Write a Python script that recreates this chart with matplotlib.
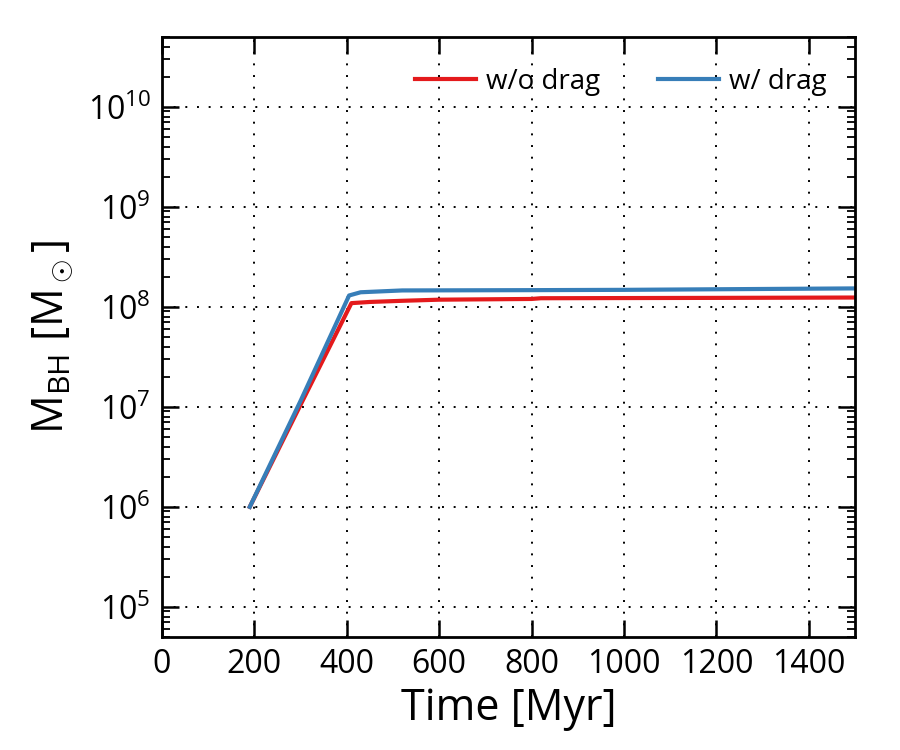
import matplotlib
matplotlib.use("Agg")
import matplotlib.pyplot as plt
from matplotlib.ticker import LogLocator, NullFormatter, MultipleLocator

plt.rcParams['font.family'] = ['Open Sans', 'DejaVu Sans']
plt.rcParams['mathtext.fontset'] = 'custom'
plt.rcParams['mathtext.rm'] = 'Open Sans'
plt.rcParams['mathtext.it'] = 'Open Sans:italic'
plt.rcParams['mathtext.bf'] = 'Open Sans:bold'

# Data
t_nodrag = [190, 300, 410, 450, 520, 600, 800, 820, 1000, 1200, 1500]
m_nodrag = [1.0e6, 1.05e7, 1.09e8, 1.12e8, 1.15e8, 1.18e8, 1.2e8, 1.22e8, 1.225e8, 1.23e8, 1.24e8]
t_drag = [190, 300, 405, 430, 520, 800, 1000, 1200, 1500]
m_drag = [1.0e6, 1.15e7, 1.3e8, 1.4e8, 1.46e8, 1.47e8, 1.48e8, 1.5e8, 1.53e8]
labels = ["w/o drag", "w/ drag"]

fig = plt.figure(figsize=(9, 7.5), dpi=100)
ax = fig.add_axes([0.18, 0.1507, 0.77, 0.80])

ax.plot(t_nodrag, m_nodrag, color='#e41a1c', lw=3.0, label=labels[0])
ax.plot(t_drag, m_drag, color='#377eb8', lw=3.0, label=labels[1])

ax.set_yscale('log')
ax.set_xlim(0, 1500)
ax.set_ylim(5e4, 5e10)
ax.xaxis.set_major_locator(MultipleLocator(200))
ax.yaxis.set_major_locator(LogLocator(base=10, numticks=20))
ax.yaxis.set_minor_locator(LogLocator(base=10, subs=range(2, 10), numticks=20))
ax.yaxis.set_minor_formatter(NullFormatter())

ax.grid(True, which='major', color='black', linestyle=(0, (1, 5)), linewidth=1.4)
ax.tick_params(which='major', direction='in', length=12, width=1.8, top=True, right=True, labelsize=23, pad=8)
ax.tick_params(which='minor', direction='in', length=6, width=1.3, top=True, right=True)
for s in ax.spines.values():
    s.set_linewidth(2)

ax.set_xlabel('Time [Myr]', fontsize=31, labelpad=4)
ax.set_ylabel(r'M$_{\rm BH}$ [M$_\odot$]', fontsize=31, labelpad=8)

ax.legend(loc='upper right', ncol=2, frameon=False, fontsize=20,
          handlelength=2.2, columnspacing=2.1, handletextpad=0.35,
          bbox_to_anchor=(0.995, 0.99))

fig.savefig('out.png', dpi=100)
